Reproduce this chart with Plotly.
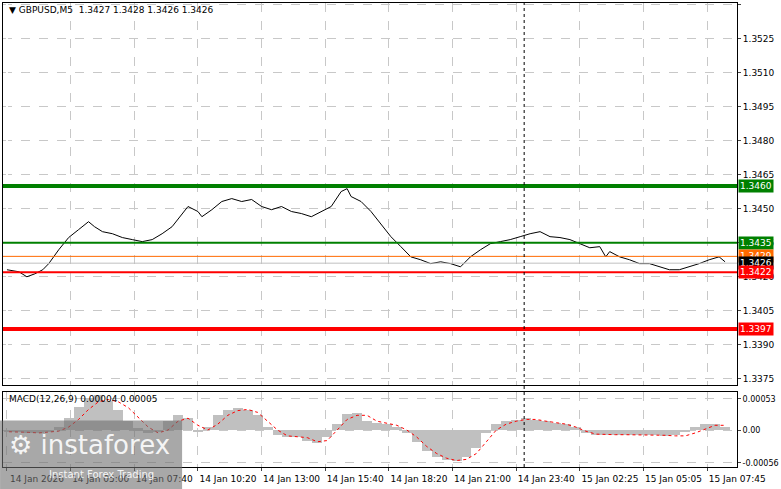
import plotly.graph_objects as go

# price line (bar index on M5, close)
bars = [0, 6, 10, 14, 18, 21, 26, 31, 36, 41, 44, 48, 53, 58, 63, 68, 73, 78, 83, 88, 91,
        96, 98, 103, 108, 113, 118, 123, 128, 133, 138, 143, 148, 153, 158, 163, 168, 171,
        173, 178, 183, 188, 193, 198, 203, 208, 213, 218, 223, 228, 233, 238, 243, 248,
        253, 258, 263, 268, 273, 278, 283, 288, 293, 298, 301, 303, 308, 313, 318, 323,
        328, 333, 338, 343, 348, 353, 358, 361]
close = [1.34231, 1.34222, 1.34200, 1.34213, 1.34231, 1.34258, 1.34319, 1.34373, 1.34408,
         1.34443, 1.34421, 1.34399, 1.34390, 1.34373, 1.34364, 1.34355, 1.34364, 1.34390,
         1.34421, 1.34479, 1.34510, 1.34488, 1.34465, 1.34496, 1.34532, 1.34545, 1.34532,
         1.34541, 1.34510, 1.34496, 1.34510, 1.34488, 1.34479, 1.34465, 1.34488, 1.34510,
         1.34576, 1.34589, 1.34554, 1.34532, 1.34488, 1.34435, 1.34377, 1.34333, 1.34288,
         1.34275, 1.34258, 1.34266, 1.34258, 1.34244, 1.34288, 1.34319, 1.34346, 1.34355,
         1.34364, 1.34377, 1.34390, 1.34399, 1.34377, 1.34373, 1.34364, 1.34346, 1.34328,
         1.34333, 1.34288, 1.34311, 1.34288, 1.34275, 1.34258, 1.34258, 1.34244, 1.34231,
         1.34231, 1.34244, 1.34258, 1.34275, 1.34288, 1.34266]

# MACD histogram and signal, sampled every 5 bars (x1e-5)
macd_bars = [1, 6, 11, 16, 21, 26, 31, 36, 41, 46, 51, 56, 61, 66, 71, 76, 81, 86, 91, 96,
             101, 106, 111, 116, 121, 126, 131, 136, 141, 146, 151, 156, 161, 166, 171, 176,
             181, 186, 191, 196, 201, 206, 211, 216, 221, 226, 231, 236, 241, 246, 251, 256,
             261, 266, 271, 276, 281, 286, 291, 296, 301, 306, 311, 316, 321, 326, 331, 336,
             341, 346, 351, 356, 361]
macd_hist = [-2, -3, -4, -4, -2, 5, 20, 40, 55, 60, 50, 35, 15, 3, -5, -3, 15, 25, 20, -3,
             5, 25, 35, 38, 35, 25, 5, -8, -12, -12, -18, -22, -12, 10, 28, 30, 15, 12, 10, 5,
             -5, -20, -35, -45, -50, -52, -45, -30, -5, 10, 15, 18, 20, 18, 15, 12, 10, 5,
             -5, -8, -8, -8, -8, -8, -8, -8, -10, -8, -3, 5, 10, 10, 5]
macd_signal = [-3, -3, -4, -5, -4, -2, 5, 18, 35, 48, 52, 48, 38, 22, 5, -5, 0, 15, 20, 8,
               0, 10, 25, 33, 35, 30, 15, 0, -10, -12, -13, -20, -18, 0, 18, 25, 25, 15, 12,
               8, 0, -12, -28, -40, -48, -52, -50, -40, -20, 0, 10, 15, 18, 18, 15, 12, 10, 5,
               -2, -7, -8, -8, -8, -8, -8, -8, -9, -10, -10, -5, 2, 8, 8]

time_ticks = [0, 32, 64, 96, 128, 160, 192, 224, 256, 288, 320, 352]
time_labels = ["14 Jan 2026", "14 Jan 05:00", "14 Jan 07:40", "14 Jan 10:20", "14 Jan 13:00",
               "14 Jan 15:40", "14 Jan 18:20", "14 Jan 21:00", "14 Jan 23:40",
               "15 Jan 02:25", "15 Jan 05:05", "15 Jan 07:45"]
price_ticks = [1.3375, 1.3390, 1.3405, 1.3420, 1.3435, 1.3450, 1.3465, 1.3480, 1.3495,
               1.3510, 1.3525, 1.3540]

# (price, line colour, line width, label background)
levels = [(1.3460, "#008000", 4, "#008000"), (1.3435, "#008000", 2, "#008000"),
          (1.3429, "#ff6a00", 1, "#ff6a00"), (1.3426, "#c0c0c0", 1, "#000000"),
          (1.3422, "#ff0000", 2, "#ff0000"), (1.3397, "#ff0000", 4, "#ff0000")]

font = "DejaVu Sans"
fig = go.Figure()

fig.add_trace(go.Scatter(x=bars, y=close, mode="lines", line=dict(color="black", width=1),
                         xaxis="x", yaxis="y", showlegend=False))
fig.add_trace(go.Bar(x=macd_bars, y=[v * 1e-5 for v in macd_hist], width=5,
                     marker=dict(color="#c0c0c0", line_width=0), xaxis="x2", yaxis="y2",
                     showlegend=False))
fig.add_trace(go.Scatter(x=macd_bars, y=[v * 1e-5 for v in macd_signal], mode="lines",
                         line=dict(color="red", width=1, dash="dot"), xaxis="x2", yaxis="y2",
                         showlegend=False))

for p, c, w, bg in levels:
    fig.add_shape(type="line", xref="x", yref="y", x0=-2, x1=367, y0=p, y1=p,
                  line=dict(color=c, width=w))
    fig.add_annotation(xref="paper", yref="y", x=1.0, y=p, xanchor="left", text=f"{p:.4f}",
                       showarrow=False, bgcolor=bg, font=dict(color="white", size=9, family=font),
                       borderpad=1, xshift=1)

fig.add_shape(type="line", xref="x", yref="paper", x0=260, x1=260, y0=0, y1=1,
              line=dict(color="black", width=1, dash="dot"))

grid = dict(showgrid=True, gridcolor="#c8c8c8", griddash="dash", gridwidth=1, automargin=False)
fig.update_layout(
    width=781, height=489, margin=dict(l=3, r=44, t=3, b=22),
    paper_bgcolor="white", plot_bgcolor="white", bargap=0,
    font=dict(family=font, size=9, color="black"),
    xaxis=dict(domain=[0, 1], range=[-2, 367], tickvals=time_ticks, showticklabels=False,
               showline=True, mirror=True, linecolor="black", anchor="y", **grid),
    yaxis=dict(domain=[0.177, 1], range=[1.33723, 1.35408], side="right", tickvals=price_ticks,
               tickformat=".4f", showline=True, mirror=True, linecolor="black", ticks="outside",
               ticklen=3, **grid),
    xaxis2=dict(domain=[0, 1], range=[-2, 367], tickvals=time_ticks, ticktext=time_labels,
                showline=True, mirror=True, linecolor="black", anchor="y2", ticks="outside",
                ticklen=3, tickangle=0, ticklabelshift=30, **grid),
    yaxis2=dict(domain=[0, 0.162], range=[-0.00063, 0.00065], side="right",
                tickvals=[-0.00056, 0, 0.00053], ticktext=["-0.00056", "0.00", "0.00053"],
                tickfont=dict(size=8), showline=True, mirror=True, linecolor="black",
                zeroline=False, ticks="outside", ticklen=3, anchor="x2", **grid),
)

fig.add_annotation(xref="paper", yref="paper", x=0.005, y=1.0, xanchor="left", yanchor="top",
                   text="▼ GBPUSD,M5  1.3427 1.3428 1.3426 1.3426", showarrow=False,
                   font=dict(size=9, family=font))
fig.add_annotation(xref="paper", yref="paper", x=0.005, y=0.162, xanchor="left", yanchor="top",
                   text="MACD(12,26,9) 0.00004 0.00005", showarrow=False,
                   font=dict(size=9, family=font))

# watermark logo
fig.add_shape(type="rect", xref="paper", yref="paper", x0=-0.004, x1=0.244, y0=-0.05, y1=0.1,
              fillcolor="rgba(110,110,110,0.6)", line_width=0, layer="above")
fig.add_annotation(xref="paper", yref="paper", x=0.005, y=0.085, xanchor="left", yanchor="top",
                   text="⚙ instaforex", showarrow=False,
                   font=dict(size=26, family=font, color="rgba(255,255,255,0.9)"))
fig.add_annotation(xref="paper", yref="paper", x=0.06, y=0.0, xanchor="left", yanchor="top",
                   text="Instant Forex Trading", showarrow=False,
                   font=dict(size=10, family=font, color="rgba(255,255,255,0.9)"))

fig.write_html("out.html", config={"displayModeBar": False},
               post_script="document.body.style.margin='0';")
